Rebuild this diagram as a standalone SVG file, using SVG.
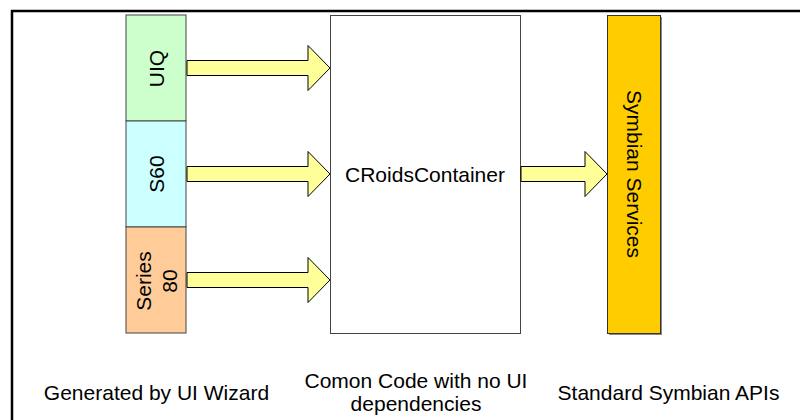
<svg xmlns="http://www.w3.org/2000/svg" width="800" height="420" viewBox="0 0 800 420">
<style>
text{font-family:"Liberation Sans",Arial,sans-serif;font-size:21px;fill:#000}
.box{stroke:#444;stroke-width:1}
.arrow{fill:#FFFF99;stroke:#000;stroke-width:1;stroke-linejoin:miter}
</style>
<rect x="0" y="0" width="800" height="420" fill="#fff"/>
<rect x="12" y="11" width="800" height="420" fill="none" stroke="#000" stroke-width="2.5"/>
<g id="uiq">
<rect class="box" x="126" y="15" width="60" height="106" fill="#CCFFCC"/>
<text transform="translate(164,68.5) rotate(-90)" text-anchor="middle">UIQ</text>
</g>
<g id="s60">
<rect class="box" x="126" y="121" width="60" height="106" fill="#CCFFFF"/>
<text transform="translate(164,174) rotate(-90)" text-anchor="middle">S60</text>
</g>
<g id="series80">
<rect class="box" x="126" y="227" width="60" height="106" fill="#FFCC99"/>
<text transform="translate(151,281) rotate(-90)" text-anchor="middle">Series</text>
<text transform="translate(177,281) rotate(-90)" text-anchor="middle">80</text>
</g>
<g id="croids">
<rect class="box" x="330.5" y="15.5" width="190" height="318" fill="#fff"/>
<text x="425" y="182" text-anchor="middle">CRoidsContainer</text>
</g>
<g id="symbian">
<rect x="609" y="17" width="53" height="318" fill="#888"/>
<rect x="607.5" y="15.5" width="53" height="318" fill="#FFCC00" stroke="#333" stroke-width="1"/>
<text transform="translate(627,174) rotate(90)" text-anchor="middle">Symbian Services</text>
</g>
<g id="connectors">
<polygon class="arrow" points="187,60.5 308,60.5 308,45.5 330,68 308,90.5 308,75.5 187,75.5"/>
<polygon class="arrow" points="187,166.5 308,166.5 308,151.5 330,174 308,196.5 308,181.5 187,181.5"/>
<polygon class="arrow" points="187,272.5 308,272.5 308,257.5 330,280 308,302.5 308,287.5 187,287.5"/>
<polygon class="arrow" points="521,166.5 585,166.5 585,151.5 607,174 585,196.5 585,181.5 521,181.5"/>
</g>
<g id="labels">
<text x="156.5" y="400" text-anchor="middle">Generated by UI Wizard</text>
<text x="416" y="388" text-anchor="middle">Comon Code with no UI</text>
<text x="416" y="411" text-anchor="middle">dependencies</text>
<text x="668.5" y="400" text-anchor="middle">Standard Symbian APIs</text>
</g>
</svg>
